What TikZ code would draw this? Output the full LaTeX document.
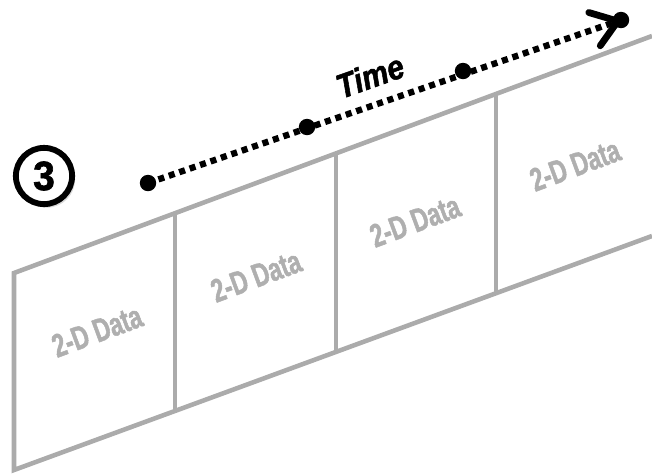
\documentclass[tikz,border=0pt]{standalone}
\usepackage{fontspec}
\setmainfont{Liberation Sans}
\newfontfamily\narrowfont[FakeStretch=0.7, FakeBold=1.5]{Liberation Sans}
\newfontfamily\timefont[FakeStretch=0.88, FakeBold=1.5]{Liberation Sans}
\newfontfamily\numfont[FakeStretch=0.95, FakeBold=1.5]{Liberation Sans}
\usepackage{xcolor}
\usepackage{tikz}
\usetikzlibrary{positioning,calc,arrows.meta,shadows}

\definecolor{framegray}{HTML}{ABABAB}
\definecolor{labelgray}{HTML}{AFAFAF}

\begin{document}
\begin{tikzpicture}[
    x=0.03cm, y=-0.03cm,
    frame/.style={draw=framegray, line width=3.9pt, line join=miter},
    datalbl/.style={text=labelgray, font=\narrowfont\bfseries\fontsize{28}{30}\selectfont,
                    rotate=20.4, inner sep=0pt},
    tdot/.style={circle, fill=black, minimum size=14pt, inner sep=0pt},
    timeline/.style={line width=5.4pt, dash pattern=on 5.2pt off 4.2pt,
                     -{Straight Barb[length=21pt, width=30pt, round, line width=5.8pt]}},
    stepnum/.style={circle, draw=black, line width=5pt, fill=white, minimum size=48pt,
                    inner sep=0pt, font=\numfont\bfseries\fontsize{35}{38}\selectfont,
                    drop shadow={opacity=0.3, shadow xshift=2.5pt, shadow yshift=-3pt}},
]
\useasboundingbox (0,0) rectangle (652,473);

% =====================================================================
% Frames of the 2-D data slices
% =====================================================================
\coordinate (a0) at (14,273);  \coordinate (b0) at (14,470);
\coordinate (a1) at (175,213); \coordinate (b1) at (175,413);
\coordinate (a2) at (336,153); \coordinate (b2) at (336,352);
\coordinate (a3) at (496,94);  \coordinate (b3) at (496,293);
\coordinate (a4) at (652,36);  \coordinate (b4) at (652,236);

\draw[frame] (a4) -- (a0) -- (b0) -- (b4);
\draw[frame] (a1) -- (b1);
\draw[frame] (a2) -- (b2);
\draw[frame] (a3) -- (b3);

% Slice labels
\node[datalbl] (d0) at (97,331) {2-D Data};
\node[datalbl] (d1) at (256,276) {2-D Data};
\node[datalbl] (d2) at (415,221) {2-D Data};
\node[datalbl] (d3) at (575,165) {2-D Data};

% =====================================================================
% Time axis
% =====================================================================
\coordinate (t0) at (148,183);
\coordinate (t1) at (307,127);
\coordinate (t2) at (463,71);
\coordinate (t3) at (621,20);

\draw[timeline] (t0) -- (t3);
\node[tdot] (p0) at (t0) {};
\node[tdot] (p1) at (t1) {};
\node[tdot] (p2) at (t2) {};
\node[tdot] (p3) at (t3) {};

\node[font=\timefont\bfseries\itshape\fontsize{29}{32}\selectfont, rotate=19.5] (time) at (370,76) {Time};

% Step number
\node[stepnum] (num) at (44,176) {3};

\end{tikzpicture}
\end{document}
